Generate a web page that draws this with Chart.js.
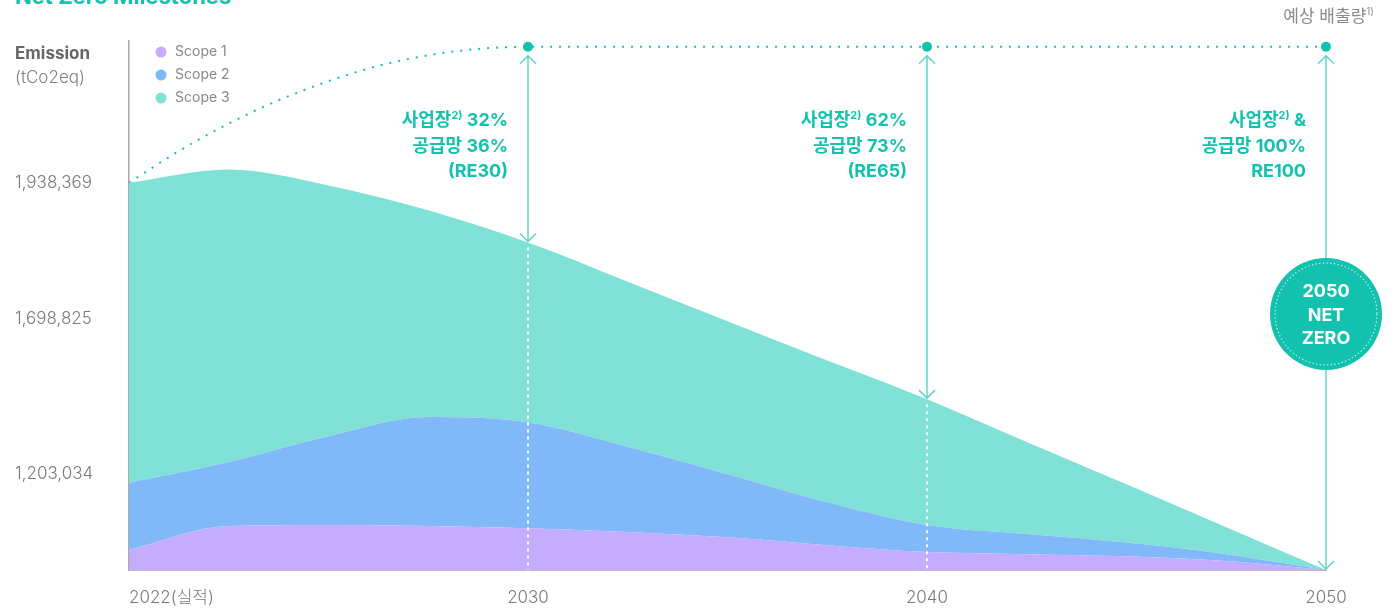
<!DOCTYPE html>
<html lang="ko">
<head>
<meta charset="utf-8">
<title>Net Zero Milestones</title>
<script src="https://cdn.jsdelivr.net/npm/chart.js@4.4.1/dist/chart.umd.min.js"></script>
<style>
    html, body { margin: 0; padding: 0; background: #fff; }
</style>
</head>
<body>
<canvas id="grafEmisiones" width="1398" height="608"></canvas>
<script>
// timeline positions: 0 = 2022, 1 = 2030, 2 = 2040, 3 = 2050 (equal spacing between milestones)
const milestones = ['2022(실적)', '2030', '2040', '2050']
const steps = [0, 0.25, 0.5, 0.75, 1, 1.25, 1.5, 1.75, 2, 2.25, 2.5, 2.75, 3]

// emission index (axis top = 100)
const scope1 = [3.8, 8.3, 8.5, 8.3, 7.9, 7.2, 6.2, 4.7, 3.4, 3.0, 2.6, 1.7, 0]
const scope2 = [12.7, 12.1, 16.8, 20.6, 20.0, 16.1, 11.9, 8.1, 5.1, 3.8, 2.6, 1.3, 0]
const scope3 = [56.7, 55.3, 47.4, 39.1, 34.0, 31.2, 28.9, 26.8, 23.8, 17.4, 11.0, 5.1, 0]

// 예상 배출량 (business as usual)
const projSteps = [0, 0.125, 0.25, 0.375, 0.5, 0.625, 0.75, 0.875, 1, 2, 3]
const projected = [73.2, 79.2, 84.4, 88.8, 92.4, 95.3, 97.3, 98.5, 98.9, 98.9, 98.9]

const yTickPos = [73.2, 47.4, 18.1]
const yTickLabels = ['1,938,369', '1,698,825', '1,203,034']

// text next to each milestone arrow, {..} = superscript
const notes = [
    null,
    ['사업장{2)} 32%', '공급망 36%', '(RE30)'],
    ['사업장{2)} 62%', '공급망 73%', '(RE65)'],
    ['사업장{2)} &', '공급망 100%', 'RE100']
]

const FONT = "Inter, 'Noto Sans CJK KR', sans-serif"
const TEAL = '#13c2ae'
const ARROW = '#5fd5c7'

document.addEventListener('DOMContentLoaded', () => {

    Chart.defaults.font.family = FONT

    let canvas = document.getElementById('grafEmisiones')

    function drawRich(ctx, text, xRight, y, size, weight, color) {
        let parts = text.split(/[{}]/)
        let widths = parts.map((p, i) => {
            ctx.font = `${weight} ${i % 2 ? Math.round(size * 0.6) : size}px ${FONT}`
            return ctx.measureText(p).width
        })
        let x = xRight - widths.reduce((a, b) => a + b, 0)
        ctx.fillStyle = color
        ctx.textAlign = 'left'
        ctx.textBaseline = 'middle'
        parts.forEach((p, i) => {
            ctx.font = `${weight} ${i % 2 ? Math.round(size * 0.6) : size}px ${FONT}`
            ctx.fillText(p, x, i % 2 ? y - size * 0.32 : y)
            x += widths[i]
        })
    }

    function chevron(ctx, x, y, dir) {
        ctx.beginPath()
        ctx.moveTo(x - 8, y + dir * 8)
        ctx.lineTo(x, y)
        ctx.lineTo(x + 8, y + dir * 8)
        ctx.stroke()
    }

    const milestonePlugin = {
        id: 'milestones',
        afterDatasetsDraw(chart) {
            let ctx = chart.ctx
            let xs = chart.scales.x
            let ys = chart.scales.y
            let area = chart.chartArea
            ctx.save()
            for (let m = 1; m < milestones.length; m++) {
                let x = xs.getPixelForValue(m)
                let idx = steps.indexOf(m)
                let total = scope1[idx] + scope2[idx] + scope3[idx]
                let yTop = ys.getPixelForValue(projected[projSteps.indexOf(m)]) + 9
                let yEnd = ys.getPixelForValue(total) - 1

                // white dotted guide inside the area
                if (total > 0) {
                    ctx.strokeStyle = 'rgba(255,255,255,0.95)'
                    ctx.lineWidth = 2
                    ctx.setLineDash([3, 4])
                    ctx.beginPath()
                    ctx.moveTo(x, yEnd + 6)
                    ctx.lineTo(x, area.bottom)
                    ctx.stroke()
                    ctx.setLineDash([])
                }

                ctx.strokeStyle = ARROW
                ctx.lineWidth = 1.5
                ctx.beginPath()
                ctx.moveTo(x, yTop)
                ctx.lineTo(x, yEnd)
                ctx.stroke()
                chevron(ctx, x, yTop, 1)
                chevron(ctx, x, yEnd, -1)

                notes[m].forEach((line, j) => {
                    drawRich(ctx, line, x - 20, area.top + 80 + j * 25.5, 18, 'bold', TEAL)
                })
            }

            // 2050 badge
            let bx = xs.getPixelForValue(3)
            let by = area.top + 273
            ctx.fillStyle = TEAL
            ctx.beginPath()
            ctx.arc(bx, by, 56, 0, Math.PI * 2)
            ctx.fill()
            ctx.strokeStyle = 'rgba(255,255,255,0.85)'
            ctx.lineWidth = 1.2
            ctx.setLineDash([1.2, 2.5])
            ctx.beginPath()
            ctx.arc(bx, by, 51, 0, Math.PI * 2)
            ctx.stroke()
            ctx.setLineDash([])
            ctx.fillStyle = '#fff'
            ctx.font = `bold 18px ${FONT}`
            ctx.textAlign = 'center'
            ctx.textBaseline = 'middle'
            ;['2050', 'NET', 'ZERO'].forEach((t, j) => ctx.fillText(t, bx, by - 22 + j * 23.5))
            ctx.restore()
        },
        afterDraw(chart) {
            let ctx = chart.ctx
            let area = chart.chartArea
            ctx.save()

            ctx.fillStyle = TEAL
            ctx.font = `bold 22px ${FONT}`
            ctx.textAlign = 'left'
            ctx.textBaseline = 'alphabetic'
            ctx.fillText('Net Zero Milestones', 15, 4)

            ctx.textBaseline = 'middle'
            ctx.fillStyle = '#666'
            ctx.font = `bold 17px ${FONT}`
            ctx.fillText('Emission', 15, 54)
            ctx.fillStyle = '#808080'
            ctx.font = `300 17px ${FONT}`
            ctx.fillText('(tCo2eq)', 15, 78)

            // legend
            chart.data.datasets.slice(0, 3).forEach((ds, i) => {
                let y = area.top + 11 + i * 23
                ctx.fillStyle = ds.backgroundColor
                ctx.beginPath()
                ctx.arc(161, y, 5.5, 0, Math.PI * 2)
                ctx.fill()
                ctx.fillStyle = '#888'
                ctx.font = `14px ${FONT}`
                ctx.fillText(ds.label, 175, y)
            })

            drawRich(ctx, '예상 배출량{1)}', 1374, 17, 17, 'normal', '#8a8a8a')
            ctx.restore()
        }
    }

    const series = (vals) => steps.map((x, i) => ({ x: x, y: vals[i] }))

    let grafico = new Chart(canvas, {
        type: 'line',
        data: {
            datasets: [
                { label: 'Scope 1', data: series(scope1), backgroundColor: '#c4adfe', fill: 'origin' },
                { label: 'Scope 2', data: series(scope2), backgroundColor: '#80b8f8', fill: '-1' },
                { label: 'Scope 3', data: series(scope3), backgroundColor: '#80e1d7', fill: '-1' },
                {
                    label: '예상 배출량',
                    stack: 'projected',
                    data: projSteps.map((x, i) => ({ x: x, y: projected[i] })),
                    fill: false,
                    borderColor: TEAL,
                    borderWidth: 2,
                    borderDash: [2, 7],
                    pointRadius: projSteps.map(x => (x >= 1 && Number.isInteger(x)) ? 5 : 0),
                    pointBackgroundColor: TEAL,
                    pointBorderWidth: 0,
                    clip: false,
                },
            ]
        },
        options: {
            responsive: false,
            animation: false,
            events: [],
            layout: { padding: { left: 15, right: 72, top: 41, bottom: 0 } },
            elements: {
                line: { borderWidth: 0, cubicInterpolationMode: 'monotone' },
                point: { radius: 0 },
            },
            plugins: {
                legend: { display: false },
                tooltip: { enabled: false },
            },
            scales: {
                x: {
                    type: 'linear',
                    min: 0,
                    max: 3,
                    grid: { display: false, drawTicks: false },
                    border: { color: '#bdbdbd', width: 2 },
                    // trailing blank tick keeps 2050 centred while 'inner' left-aligns the first label
                    afterBuildTicks: (scale) => { scale.ticks = [0, 1, 2, 3, 3].map(v => ({ value: v })) },
                    afterFit: (scale) => { scale.height = 38 },
                    ticks: {
                        autoSkip: false,
                        maxRotation: 0,
                        align: 'inner',
                        padding: 18,
                        color: '#7a7a7a',
                        font: { size: 17, weight: 300 },
                        callback: (value, index) => milestones[index] || '',
                    },
                },
                y: {
                    stacked: true,
                    min: 0,
                    max: 100,
                    grid: { display: false, drawTicks: false },
                    border: { color: '#aaaaaa', width: 1.5 },
                    afterBuildTicks: (scale) => { scale.ticks = yTickPos.map(v => ({ value: v })) },
                    afterFit: (scale) => { scale.width = 114 },
                    ticks: {
                        autoSkip: false,
                        crossAlign: 'far',
                        color: '#7a7a7a',
                        font: { size: 17, weight: 300 },
                        callback: (value, index) => yTickLabels[index],
                    },
                },
            },
        },
        plugins: [milestonePlugin],
    })
})
</script>
</body>
</html>
